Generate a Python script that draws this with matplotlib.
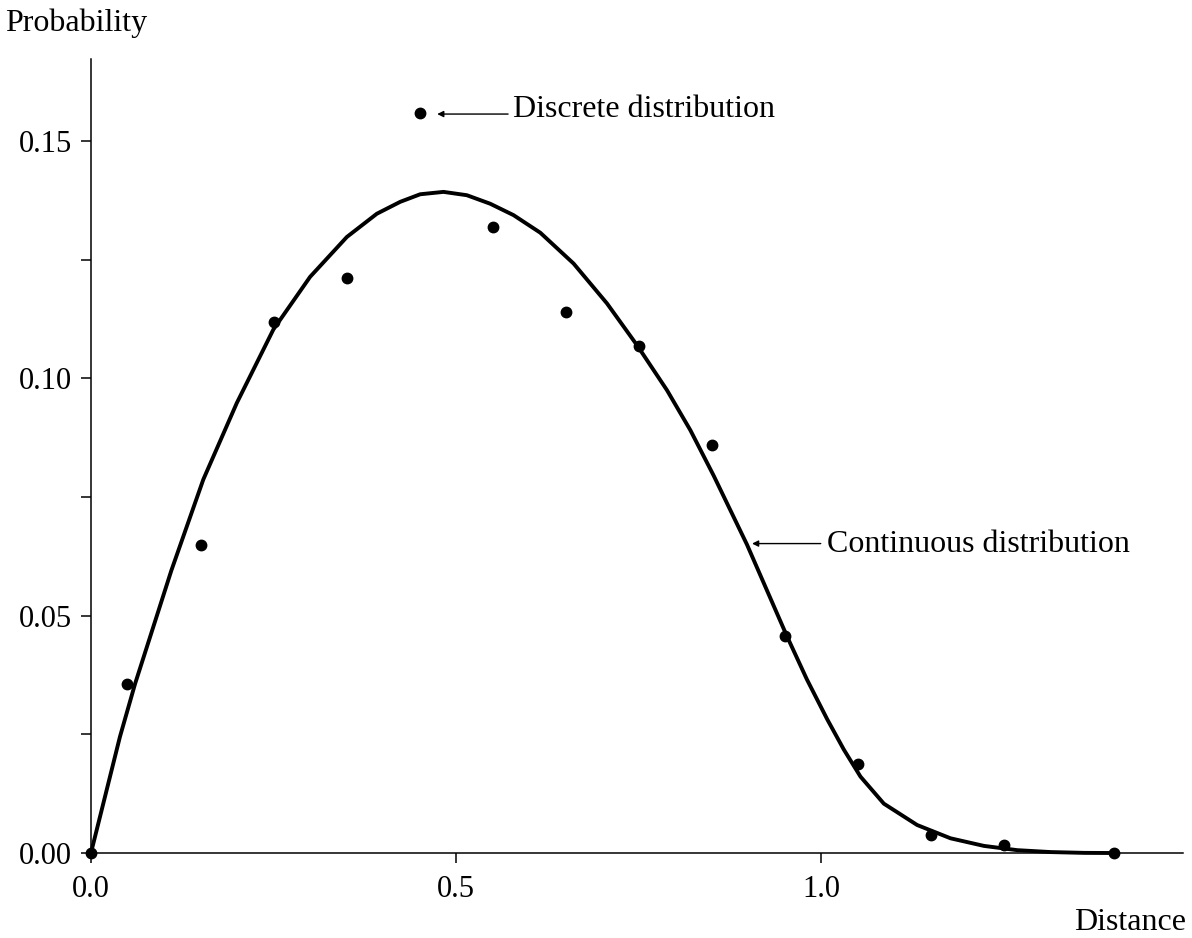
import matplotlib.pyplot as plt
from matplotlib.ticker import MultipleLocator

# discrete distribution (dots)
dist_x = [0.0, 0.05, 0.15, 0.25, 0.35, 0.45, 0.55, 0.65, 0.75, 0.85, 0.95, 1.05, 1.15, 1.25, 1.40]
dist_p = [0.0, 0.0356, 0.0649, 0.1119, 0.1211, 0.1559, 0.1319, 0.1140, 0.1068, 0.0859,
          0.0457, 0.0187, 0.0038, 0.0017, 0.0]

# continuous distribution (curve)
curve_x = [0.0, 0.0397, 0.0603, 0.11, 0.1538, 0.1996, 0.2497, 0.300, 0.3503, 0.3914,
           0.4233, 0.4507, 0.4826, 0.5146, 0.5466, 0.5785, 0.6151, 0.6607, 0.7064, 0.7475,
           0.7886, 0.8205, 0.8525, 0.898, 0.953, 0.980, 1.0078, 1.0306, 1.0534, 1.0854,
           1.131, 1.1767, 1.2224, 1.268, 1.3137, 1.36, 1.40]
curve_p = [0.0, 0.0245, 0.0356, 0.0595, 0.0787, 0.0948, 0.1103, 0.1214, 0.1298, 0.1347,
           0.1372, 0.1388, 0.1393, 0.1386, 0.1368, 0.1344, 0.1307, 0.1242, 0.1158, 0.1070,
           0.0975, 0.0891, 0.0795, 0.0650, 0.0456, 0.0366, 0.0282, 0.0218, 0.0161, 0.0104,
           0.0059, 0.0031, 0.0015, 0.0006, 0.0002, 0.00003, 0.0]

x_ticks = [0.0, 0.5, 1.0]
x_labels = ["0.0", "0.5", "1.0"]
y_ticks = [0.0, 0.05, 0.10, 0.15]
y_labels = ["0.00", "0.05", "0.10", "0.15"]

plt.rcParams['font.family'] = ['Liberation Serif', 'DejaVu Serif']
plt.rcParams['font.size'] = 22

fig = plt.figure(figsize=(11.92, 9.38), dpi=100)
ax = fig.add_axes([0.0763, 0.0906, 0.9162, 0.8465])

ax.plot(curve_x, curve_p, color='black', lw=2.8, solid_joinstyle='round', clip_on=False)
ax.plot(dist_x, dist_p, 'o', color='black', ms=7.5, clip_on=False, zorder=5)

ax.set_xlim(0, 1.495)
ax.set_ylim(0, 0.1673)

for s in ['top', 'right']:
    ax.spines[s].set_visible(False)
for s in ['left', 'bottom']:
    ax.spines[s].set_linewidth(1.1)

ax.set_xticks(x_ticks)
ax.set_xticklabels(x_labels)
ax.set_yticks(y_ticks)
ax.set_yticklabels(y_labels)
ax.yaxis.set_minor_locator(MultipleLocator(0.025))
ax.tick_params(axis='both', which='both', direction='out', width=1.1, length=7.5)
ax.tick_params(axis='x', pad=8)
ax.tick_params(axis='y', pad=6)

fig.text(0.004, 0.9755, "Probability", ha='left', va='center', fontsize=23)
fig.text(0.995, 0.0165, "Distance", ha='right', va='center', fontsize=23)

arrow = dict(arrowstyle='-|>', color='black', lw=1.0, mutation_scale=9, shrinkA=0, shrinkB=0)
ax.annotate("", xy=(0.474, 0.1557), xytext=(0.571, 0.1557), arrowprops=arrow)
ax.text(0.578, 0.1567, "Discrete distribution", ha='left', va='center', fontsize=23)
ax.annotate("", xy=(0.905, 0.0652), xytext=(0.999, 0.0652), arrowprops=arrow)
ax.text(1.008, 0.0649, "Continuous distribution", ha='left', va='center', fontsize=23)

fig.savefig("out.png", dpi=100)
